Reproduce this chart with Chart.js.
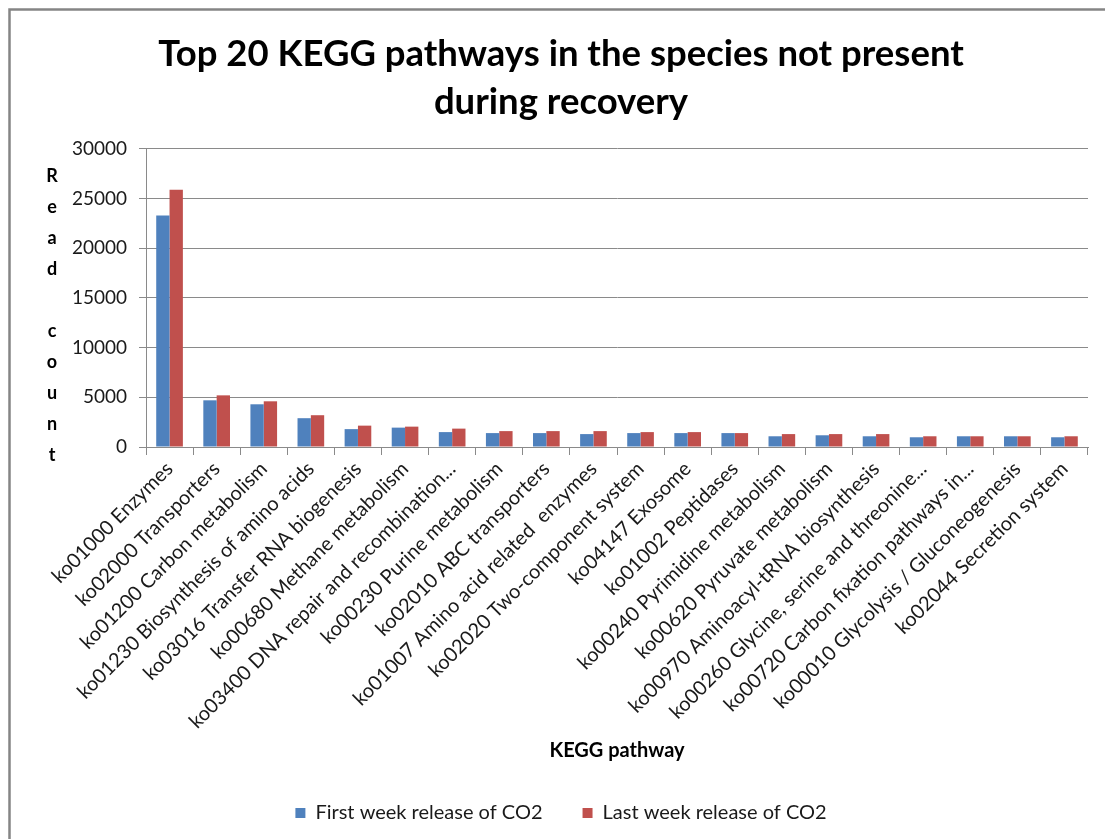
<!DOCTYPE html>
<html>
<head>
<meta charset="utf-8">
<script src="https://cdn.jsdelivr.net/npm/chart.js@4/dist/chart.umd.min.js"></script>
<style>
  html, body { margin: 0; padding: 0; background: #fff; }
  #wrap { position: relative; width: 1105px; height: 839px; }
</style>
</head>
<body>
<div id="wrap"><canvas id="c" width="1105" height="839"></canvas></div>
<script>
// KEGG pathway categories (x axis)
const pathways = [
  'ko01000 Enzymes',
  'ko02000 Transporters',
  'ko01200 Carbon metabolism',
  'ko01230 Biosynthesis of amino acids',
  'ko03016 Transfer RNA biogenesis',
  'ko00680 Methane metabolism',
  'ko03400 DNA repair and recombination...',
  'ko00230 Purine metabolism',
  'ko02010 ABC transporters',
  'ko01007 Amino acid related  enzymes',
  'ko02020 Two-component system',
  'ko04147 Exosome',
  'ko01002 Peptidases',
  'ko00240 Pyrimidine metabolism',
  'ko00620 Pyruvate metabolism',
  'ko00970 Aminoacyl-tRNA biosynthesis',
  'ko00260 Glycine, serine and threonine...',
  'ko00720 Carbon fixation pathways in...',
  'ko00010 Glycolysis / Gluconeogenesis',
  'ko02044 Secretion system'
];

// Read counts per pathway
const firstWeek = [23300, 4700, 4300, 2900, 1800, 1950, 1500, 1400, 1400, 1300,
                   1400, 1400, 1400, 1080, 1180, 1080, 980, 1080, 1080, 980];
const lastWeek  = [25900, 5200, 4600, 3200, 2150, 2050, 1850, 1600, 1600, 1600,
                   1500, 1500, 1400, 1300, 1300, 1300, 1080, 1080, 1080, 1080];

const seriesNames = ['First week release of CO2', 'Last week release of CO2'];
const yTicks = [0, 5000, 10000, 15000, 20000, 25000, 30000];

const chartTitle = ['Top 20 KEGG pathways in the species not present', 'during recovery'];
const xTitle = 'KEGG pathway';
const yTitle = 'Read count';

const gridGray = '#8a8a8a';
const textColor = '#1a1a1a';

// Outer frame around the chart
const framePlugin = {
  id: 'frame',
  beforeDraw(chart) {
    const ctx = chart.ctx;
    ctx.save();
    ctx.fillStyle = '#fff';
    ctx.fillRect(0, 0, chart.width, chart.height);
    ctx.strokeStyle = '#858585';
    ctx.lineWidth = 2.5;
    ctx.strokeRect(9.5, 9.5, 1300, 1000);
    ctx.restore();
  }
};

// Vertical axis title written one letter per line
const stackedTitlePlugin = {
  id: 'stackedTitle',
  afterDraw(chart) {
    const ctx = chart.ctx;
    const area = chart.chartArea;
    ctx.save();
    ctx.font = 'bold 18px Lato';
    ctx.fillStyle = '#000';
    ctx.textAlign = 'center';
    ctx.textBaseline = 'middle';
    const step = 31;
    let y = area.top + 27;
    for (const ch of yTitle) {
      if (ch !== ' ') ctx.fillText(ch, 52, y);
      y += step;
    }
    ctx.restore();
  }
};

new Chart(document.getElementById('c'), {
  type: 'bar',
  data: {
    labels: pathways,
    datasets: [
      { label: seriesNames[0], data: firstWeek, backgroundColor: '#4F81BD',
        categoryPercentage: 0.566, barPercentage: 1.0 },
      { label: seriesNames[1], data: lastWeek, backgroundColor: '#C0504D',
        categoryPercentage: 0.566, barPercentage: 1.0 }
    ]
  },
  options: {
    responsive: false,
    animation: false,
    layout: { padding: { left: 34, right: 17, top: 8, bottom: 6 } },
    plugins: {
      title: {
        display: true,
        text: chartTitle,
        color: '#000',
        font: { family: 'Lato', size: 36.5, weight: 'bold', lineHeight: 1.315 },
        padding: { top: 22, bottom: 23 }
      },
      legend: {
        position: 'bottom',
        labels: {
          color: textColor,
          font: { family: 'Lato', size: 20 },
          boxWidth: 10,
          boxHeight: 10,
          padding: 40
        }
      },
      tooltip: { enabled: false }
    },
    scales: {
      x: {
        grid: { offset: true, drawOnChartArea: false, tickLength: 8, color: gridGray },
        border: { color: gridGray },
        ticks: {
          color: textColor,
          font: { family: 'Lato', size: 20 },
          minRotation: 45,
          maxRotation: 45,
          autoSkip: false,
          padding: 2
        },
        title: {
          display: true,
          text: xTitle,
          color: '#000',
          font: { family: 'Lato', size: 20, weight: 'bold' },
          padding: { top: 4, bottom: 0 }
        },
        afterFit(scale) { scale.height = 316; }
      },
      y: {
        min: 0,
        max: 30000,
        afterBuildTicks(scale) { scale.ticks = yTicks.map(v => ({ value: v })); },
        grid: { color: gridGray, tickLength: 7 },
        border: { color: gridGray },
        ticks: {
          color: textColor,
          font: { family: 'Lato', size: 19 },
          padding: 12,
          callback: (v) => String(v)
        },
        afterFit(scale) { scale.width = 112; }
      }
    }
  },
  plugins: [framePlugin, stackedTitlePlugin]
});
</script>
</body>
</html>
